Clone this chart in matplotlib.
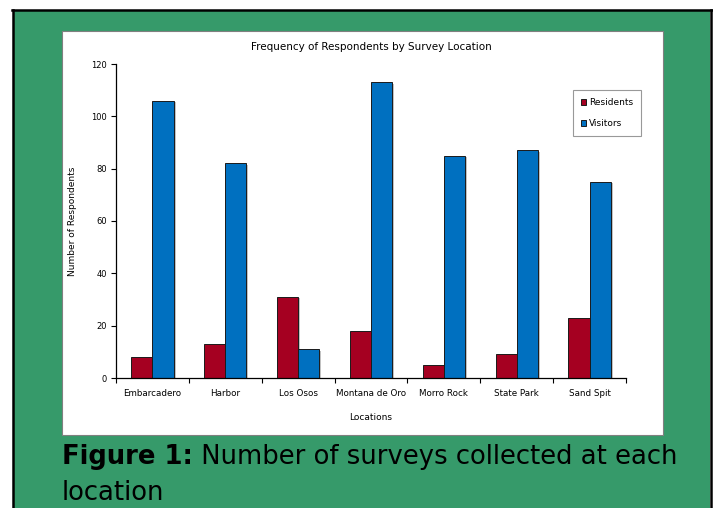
import matplotlib
matplotlib.use("Agg")
import matplotlib.pyplot as plt
from matplotlib.patches import Rectangle
from matplotlib.lines import Line2D
import matplotlib.patheffects as pe
import numpy as np

# Survey counts per location
locations = ["Embarcadero", "Harbor", "Los Osos", "Montana de Oro",
             "Morro Rock", "State Park", "Sand Spit"]
residents = [8, 13, 31, 18, 5, 9, 23]
visitors = [106, 82, 11, 113, 85, 87, 75]
y_ticks = [0, 20, 40, 60, 80, 100, 120]

W, H = 713, 508
fig = plt.figure(figsize=(W / 100, H / 100), dpi=100)
fig.patch.set_facecolor("white")

green = "#369A6A"
red = "#A50021"
blue = "#0070C0"


def fx(px):
    return px / W


def fy(py):
    return 1 - py / H


# green frame with black border
fig.add_artist(Rectangle((fx(13), 0), fx(710) - fx(13), fy(10), transform=fig.transFigure,
                         facecolor=green, edgecolor="none", zorder=0))
fig.add_artist(Line2D([fx(12), 1], [fy(10), fy(10)], transform=fig.transFigure,
                      color="black", lw=1.8, zorder=1))
fig.add_artist(Line2D([fx(13), fx(13)], [0, fy(10)], transform=fig.transFigure,
                      color="black", lw=1.8, zorder=1))
fig.add_artist(Line2D([fx(710.5), fx(710.5)], [0, fy(10)], transform=fig.transFigure,
                      color="black", lw=1.8, zorder=1))

# white chart panel
fig.add_artist(Rectangle((fx(62), fy(435)), fx(663) - fx(62), fy(30.5) - fy(435),
                         transform=fig.transFigure, facecolor="white",
                         edgecolor="#808080", lw=0.8, zorder=1))

ax_left, ax_right, ax_top, ax_bottom = 116, 626, 64, 378
ax = fig.add_axes([fx(ax_left), fy(ax_bottom), fx(ax_right) - fx(ax_left),
                   fy(ax_top) - fy(ax_bottom)])
ax.set_zorder(2)
ax.patch.set_alpha(0)

x = np.arange(len(locations))
bw = 0.29
shadow = [pe.SimplePatchShadow(offset=(1.5, -1.0), shadow_rgbFace="#999999", alpha=0.6),
          pe.Normal()]
ax.bar(x - bw / 2, residents, bw, color=red, edgecolor="#1a1a1a", lw=0.7,
       label="Residents", path_effects=shadow)
ax.bar(x + bw / 2, visitors, bw, color=blue, edgecolor="#1a1a1a", lw=0.7,
       label="Visitors", path_effects=shadow)

ax.set_xlim(-0.5, len(locations) - 0.5)
ax.set_ylim(0, 120)
ax.set_yticks(y_ticks)
ax.set_yticklabels([str(v) for v in y_ticks], fontsize=6)
ax.tick_params(axis="y", length=3.5, width=0.8, pad=3, direction="out")

ax.set_xticks(x)
ax.set_xticklabels(locations, fontsize=6.3)
ax.tick_params(axis="x", which="major", length=0, pad=8)
ax.set_xticks(np.arange(len(locations) + 1) - 0.5, minor=True)
ax.tick_params(axis="x", which="minor", length=3.5, width=0.8, direction="out")

for s in ("top", "right"):
    ax.spines[s].set_visible(False)
for s in ("left", "bottom"):
    ax.spines[s].set_linewidth(0.9)

ax.set_title("Frequency of Respondents by Survey Location", fontsize=7.5, pad=10)
ax.set_ylabel("Number of Respondents", fontsize=6.5, labelpad=10)
ax.set_xlabel("Locations", fontsize=6.5, labelpad=11)

ax_w = ax_right - ax_left
ax_h = ax_bottom - ax_top
leg = ax.legend(loc="upper right",
                bbox_to_anchor=((641 - ax_left) / ax_w, (ax_bottom - 90) / ax_h),
                borderaxespad=0, fontsize=6.5, frameon=True, fancybox=False,
                edgecolor="#808080", handlelength=0.6, handleheight=0.6,
                handletextpad=0.3, labelspacing=1.3, borderpad=0.9)
leg.get_frame().set_linewidth(0.8)
for h in leg.legend_handles:
    h.set_path_effects([])

# caption
cap_size = 18.6
t1 = fig.text(fx(62), fy(464), "Figure 1:", fontsize=cap_size, fontweight="bold",
              color="black", ha="left", va="baseline")
fig.text(fx(62), fy(500), "location", fontsize=cap_size, color="black",
         ha="left", va="baseline")
ax.annotate(" Number of surveys collected at each", xy=(1, 0), xycoords=t1,
            fontsize=cap_size, color="black", ha="left", va="bottom",
            annotation_clip=False)

fig.savefig("out.png", dpi=100)
